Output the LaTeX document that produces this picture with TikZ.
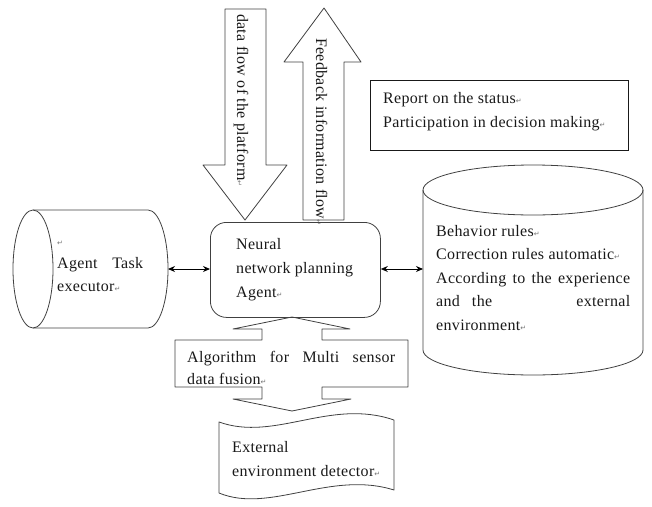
\documentclass[tikz,border=0pt]{standalone}
\usepackage{fontspec}
\setmainfont[LetterSpace=2]{Liberation Serif}
\newfontfamily\symf{DejaVu Sans}
\usetikzlibrary{arrows.meta}
\newcommand\retmark{{\symf\fontsize{7}{7}\selectfont\color{black!55}↵}}
\begin{document}
\begin{tikzpicture}[x=1pt,y=1pt,yscale=-1,
  shapeline/.style={draw=black!75,line width=0.8pt,line join=round},
  txt/.style={anchor=base west,inner sep=0pt,font=\fontsize{16}{23}\selectfont,text=black!90},
  vtxt/.style={anchor=base west,inner sep=0pt,rotate=-90,font=\fontsize{16}{23}\selectfont,text=black!90},
  link/.style={line width=0.9pt,{Stealth[length=7pt,width=6pt]}-{Stealth[length=7pt,width=6pt]}}]
\useasboundingbox (0,0) rectangle (652,506);

% down arrow (data flow of the platform)
\draw[shapeline] (225,9) -- (266,9) -- (266,165) -- (287,165) -- (245,220) -- (203,165) -- (225,165) -- cycle;
\node[vtxt] (dflow) at (237,14) {data flow of the platform\retmark};

% up arrow (feedback)
\draw[shapeline] (324,8) -- (361,62) -- (344,62) -- (344,220) -- (303,220) -- (303,62) -- (284,62) -- cycle;
\node[vtxt] (fflow) at (316,38) {Feedback information flow\retmark};

% report box
\node[draw=black!90,line width=0.8pt,minimum width=258pt,minimum height=70pt,inner sep=0pt,anchor=north west] (report) at (370,80) {};
\node[txt] (reporttxt) at (383,103) {\parbox[t]{240pt}{\baselineskip=24pt Report on the status\retmark\par Participation in decision making\retmark}};

% agent box
\node[shapeline,rounded corners=16pt,minimum width=170pt,minimum height=95pt,inner sep=0pt,anchor=north west] (agent) at (210,222) {};
\node[txt] (agenttxt) at (236,249) {\parbox[t]{140pt}{\baselineskip=24pt Neural\par network planning\par Agent\retmark}};

% left cylinder (horizontal)
\draw[shapeline] (33,210) -- (148,210) arc[start angle=-90,end angle=90,x radius=20,y radius=59] -- (33,328);
\draw[shapeline] (33,269) ellipse[x radius=20,y radius=59];
\coordinate (lcyl) at (168,269);
\node[txt] (lcyltxt) at (57,241) {\parbox[t]{86pt}{\baselineskip=23pt \retmark\par\hbox to 86pt{Agent\hfill Task}\par executor\retmark}};

% right cylinder (vertical)
\draw[shapeline] (423,190) -- (423,350) arc[start angle=180,end angle=0,x radius=110,y radius=25] -- (643,190);
\draw[shapeline] (533,190) ellipse[x radius=110,y radius=25];
\coordinate (rcyl) at (423,269);
\node[txt] (rcyltxt) at (436,236) {\parbox[t]{194pt}{\baselineskip=23.5pt Behavior rules\retmark\par Correction rules automatic\retmark\par
  \hbox to 194pt{According\hfill to\hfill the\hfill experience}\par
  \hbox to 194pt{and\hfill the\hfill\hfill\hfill\hfill\hfill\hfill\hfill external}\par environment\retmark}};

% connectors
\draw[link] (lcyl) -- (agent.west |- lcyl);
\draw[link] (agent.east |- rcyl) -- (rcyl);

% fusion bar with two arrows
\draw[shapeline] (292,317) -- (350,329) -- (322,329) -- (322,340) -- (408,340) -- (408,387) -- (322,387) -- (322,399) -- (351,399) -- (292,411) -- (233,399) -- (262,399) -- (262,387) -- (175,387) -- (175,340) -- (262,340) -- (262,329) -- (233,329) -- cycle;
\node[txt] (fusiontxt) at (187,362) {\parbox[t]{208pt}{\baselineskip=22pt \hbox to 208pt{Algorithm\hfill for\hfill Multi\hfill sensor}\par data fusion\retmark}};

% document shape
\draw[shapeline] (219,422) .. controls (275,442) and (330,398) .. (394,420) -- (394,490) .. controls (330,470) and (270,514) .. (219,493) -- cycle;
\node[txt] (doctxt) at (232,452) {\parbox[t]{160pt}{\baselineskip=24pt External\par environment detector\retmark}};
\end{tikzpicture}
\end{document}
